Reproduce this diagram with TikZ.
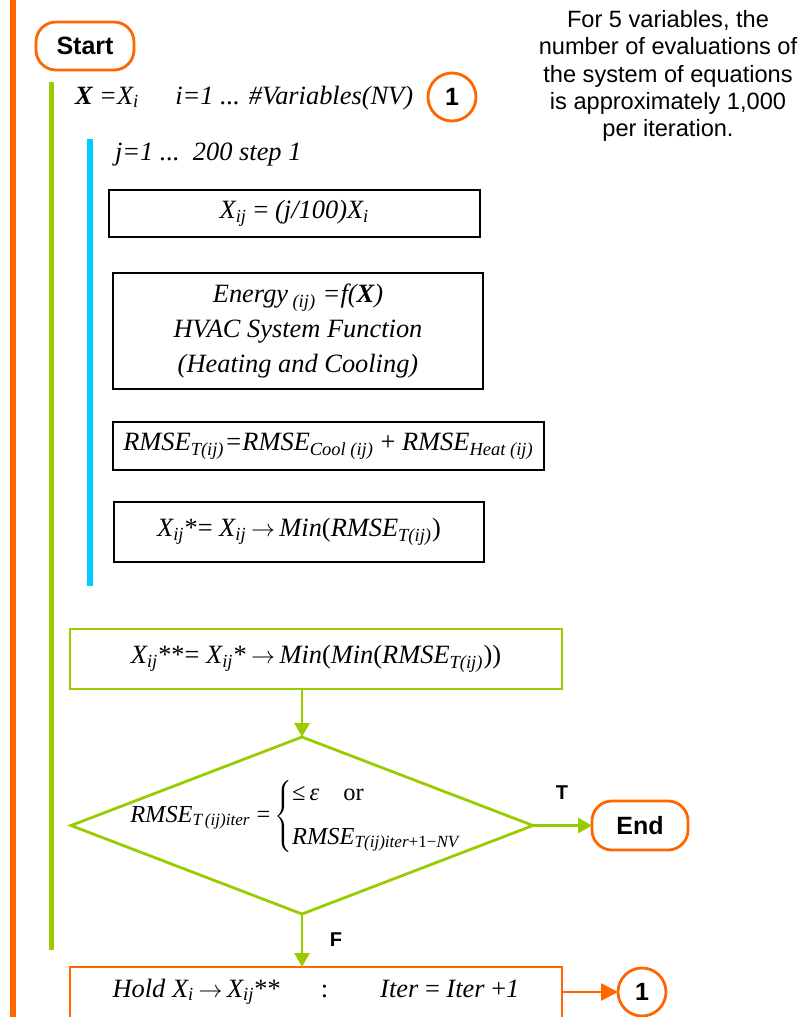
\documentclass[tikz,border=0pt]{standalone}
\usepackage{fontspec}
\setmainfont{Liberation Serif}
\setsansfont{Liberation Sans}
\usetikzlibrary{arrows.meta,shapes.geometric}
\definecolor{flowOrange}{HTML}{FF6600}
\definecolor{flowGreen}{HTML}{99CC00}
\definecolor{flowCyan}{HTML}{00CCFF}
\newcommand{\sbs}[1]{\textsubscript{#1}}
\newcommand{\maps}{\,$\rightarrow$\,}
\begin{document}
\begin{tikzpicture}[x=0.5pt,y=-0.5pt,
  every node/.style={inner sep=0pt, outer sep=0pt},
  mathtext/.style={font=\fontsize{13.2}{17.5}\selectfont\itshape, align=center},
  procbox/.style={mathtext, draw=black, line width=1.2pt},
  greenbox/.style={mathtext, draw=flowGreen, line width=1.4pt},
  holdbox/.style={mathtext, draw=flowOrange, line width=1.4pt},
  terminal/.style={draw=flowOrange, line width=1.4pt, rounded corners=10pt,
    font=\fontsize{12.5}{15}\selectfont\sffamily\bfseries},
  connector/.style={draw=flowOrange, line width=1.4pt, circle, minimum size=24pt,
    font=\fontsize{12.5}{15}\selectfont\sffamily\bfseries},
  branch/.style={font=\fontsize{10}{12}\selectfont\sffamily\bfseries},
  garrow/.style={draw=flowGreen, line width=1.4pt, -{Triangle[length=7pt,width=7.5pt]}},
  oarrow/.style={draw=flowOrange, line width=1.4pt, -{Triangle[length=8.5pt,width=8.5pt]}},
  note/.style={font=\fontsize{11.8}{13.7}\selectfont\sffamily, align=center}
]
\useasboundingbox (0,0) rectangle (804,1017);

% loop bars
\draw[flowOrange, line width=3.2pt] (13,-10) -- (13,1030);
\draw[flowGreen, line width=2.7pt] (51.5,82) -- (51.5,950);
\draw[flowCyan, line width=3pt] (90,139) -- (90,586);

% side note
\node[note] (note) at (668,76) {For 5 variables, the\\number of evaluations of\\the system of equations\\is approximately 1,000\\per iteration.};

% start and outer loop
\node[terminal, minimum width=49pt, minimum height=24pt] (start) at (85,46) {Start};
\node[mathtext, anchor=base west] (outer) at (75,104)
  {\textbf{X} =X\sbs{i}\hspace{18pt}i=1 ... \#Variables(NV)};
\node[connector] (c1) at (452,97) {1};

% inner loop
\node[mathtext, anchor=base west] (inner) at (115,160) {j=1 ...\ \ 200 step 1};
\node[procbox, minimum width=185.5pt, minimum height=23.5pt] (b1) at (294.5,213.5)
  {X\sbs{ij} \textup{=} (j/100)X\sbs{i}};
\node[procbox, minimum width=185pt, minimum height=58pt] (b2) at (298,331)
  {Energy\,\sbs{(ij)} =f(\textbf{X})\\HVAC System Function\\(Heating and Cooling)};
\node[procbox, minimum width=215.5pt, minimum height=24pt] (b3) at (328.5,446)
  {RMSE\sbs{T(ij)}=RMSE\sbs{Cool (ij)} \textup{+} RMSE\sbs{Heat (ij)}};
\node[procbox, minimum width=185pt, minimum height=30pt] (b4) at (299,532)
  {X\sbs{ij}\textup{*=} X\sbs{ij}\maps Min\textup{(}RMSE\sbs{T(ij)}\textup{)}};

% selection and test
\node[greenbox, minimum width=246pt, minimum height=30pt] (best) at (316,659)
  {X\sbs{ij}\textup{**=} X\sbs{ij}\textup{*}\maps Min\textup{(}Min\textup{(}RMSE\sbs{T(ij)}\textup{))}};
\node[diamond, draw=flowGreen, line width=1.4pt, minimum width=231pt, minimum height=88.5pt] (test) at (302,825.5) {};
\node[font=\fontsize{12.2}{15}\selectfont\itshape] (cond) at (296,816)
  {RMSE\sbs{T\,(ij)iter}\ \textup{=}\,$\left\{\begin{tabular}{@{}l@{}}\textup{≤}\,ε\hspace{12pt}\textup{or}\\[7pt]RMSE\sbs{T(ij)iter\textup{+1−}NV}\end{tabular}\right.$};
\node[terminal, minimum width=48pt, minimum height=24.5pt] (end) at (640,825.5) {End};
\node[holdbox, anchor=north, minimum width=246pt, minimum height=40pt, text height=9pt, text depth=19pt] (hold) at (316,967)
  {Hold X\sbs{i}\maps X\sbs{ij}\textup{**}\hspace{20pt}\textup{:}\hspace{26pt}Iter \textup{=} Iter \textup{+}1};
\node[connector] (c2) at (642,992) {1};

% connectors
\draw[garrow] (best.south -| test.north) -- (test.north);
\draw[garrow] (test.east) -- (end.west);
\draw[garrow] (test.south) -- (test.south |- hold.north);
\draw[oarrow] (c2.west -| hold.east) -- (c2.west);

\node[branch] (tlab) at (562,793) {T};
\node[branch] (flab) at (336,940) {F};
\end{tikzpicture}
\end{document}
